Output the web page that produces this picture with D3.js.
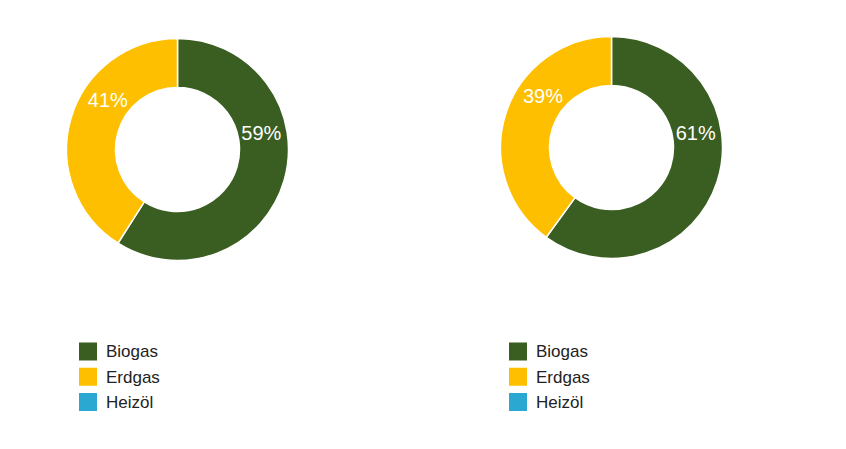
<!DOCTYPE html>
<html>
<head>
<meta charset="utf-8">
<script src="https://cdn.jsdelivr.net/npm/d3@7"></script>
<style>
  html, body { margin: 0; padding: 0; background: #ffffff; }
  svg { display: block; font-family: "Liberation Sans", Arial, sans-serif; }
</style>
</head>
<body>
<svg id="chart" width="846" height="449"></svg>
<script>
// ---- data ----
const categories = ["Biogas", "Erdgas", "Heizöl"];
const chartA = [59, 41, 0];          // slice sizes read from the left ring
const chartB = [60, 40, 0];          // slice sizes read from the right ring
const labelsA = ["59%", "41%", ""];  // printed labels, left ring
const labelsB = ["61%", "39%", ""];  // printed labels, right ring
const colors = ["#3a5e22", "#fdbf00", "#2aa8d2"];

// ---- layout ----
const W = 846, H = 449;
const svg = d3.select("#chart");
svg.append("rect").attr("width", W).attr("height", H).attr("fill", "#ffffff");

const charts = [
  { values: chartA, labels: labelsA, cx: 177.5, cy: 149.5, legendX: 79 },
  { values: chartB, labels: labelsB, cx: 611.5, cy: 147.5, legendX: 509 }
];

const outerR = 111, innerR = 62, labelR = 85.5;
const color = d3.scaleOrdinal().domain(categories).range(colors);
const pie = d3.pie().sort(null).value(d => d.value);
const arc = d3.arc().innerRadius(innerR).outerRadius(outerR);

charts.forEach(c => {
  const data = categories.map((k, i) => ({ key: k, value: c.values[i], label: c.labels[i] }));
  const arcs = pie(data).filter(d => d.value > 0);
  const g = svg.append("g").attr("transform", `translate(${c.cx},${c.cy})`);

  g.selectAll("path.slice")
    .data(arcs)
    .enter().append("path")
    .attr("class", "slice")
    .attr("d", arc)
    .attr("fill", d => color(d.data.key))
    .attr("stroke", "#ffffff")
    .attr("stroke-width", 1.5);

  g.selectAll("text.pct")
    .data(arcs)
    .enter().append("text")
    .attr("class", "pct")
    .attr("transform", d => {
      let mid = (d.startAngle + d.endAngle) / 2;
      if (mid > Math.PI) mid -= 2 * Math.PI;
      const a = mid * 0.74;
      return `translate(${labelR * Math.sin(a)},${-labelR * Math.cos(a)})`;
    })
    .attr("text-anchor", "middle")
    .attr("dy", "0.35em")
    .attr("fill", "#ffffff")
    .attr("font-size", 20)
    .text(d => d.data.label);

  // legend
  const legY = d3.scalePoint().domain(categories).range([342.5, 393]);
  const lg = svg.append("g");
  const item = lg.selectAll("g.item")
    .data(categories)
    .enter().append("g")
    .attr("class", "item")
    .attr("transform", k => `translate(${c.legendX},${legY(k)})`);
  item.append("rect")
    .attr("width", 18).attr("height", 18)
    .attr("fill", k => color(k));
  item.append("text")
    .attr("x", 27).attr("y", 9)
    .attr("dy", "0.35em")
    .attr("font-size", 17)
    .attr("fill", "#222222")
    .text(k => k);
});
</script>
</body>
</html>
